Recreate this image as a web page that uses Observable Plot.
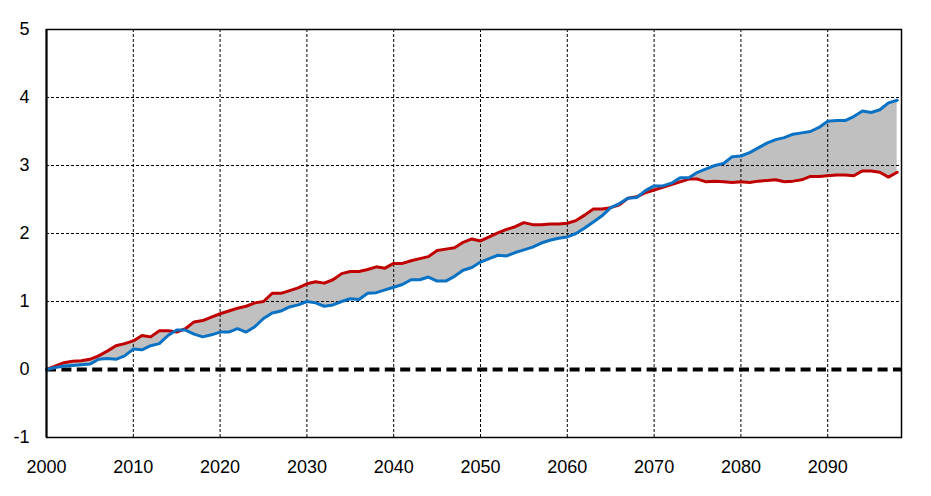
<!DOCTYPE html>
<html><head><meta charset="utf-8">
<script src="https://cdn.jsdelivr.net/npm/d3@7"></script>
<script src="https://cdn.jsdelivr.net/npm/@observablehq/plot@0.6"></script>
<style>body{margin:0;background:#fff}</style>
</head><body><div id="chart"></div>
<script>
const years = d3.range(2000, 2099);
const blue = [0,0.03,0.05,0.06,0.07,0.08,0.15,0.16,0.15,0.2,
0.3,0.29,0.35,0.38,0.5,0.58,0.58,0.52,0.48,0.51,
0.55,0.55,0.6,0.55,0.63,0.75,0.83,0.86,0.92,0.95,
1.0,0.98,0.93,0.95,1.0,1.04,1.03,1.12,1.13,1.17,
1.21,1.25,1.32,1.32,1.36,1.3,1.3,1.37,1.46,1.5,
1.58,1.63,1.68,1.67,1.72,1.76,1.8,1.86,1.9,1.93,
1.95,2.0,2.08,2.17,2.26,2.38,2.44,2.52,2.53,2.63,
2.7,2.7,2.74,2.82,2.82,2.9,2.95,3.0,3.03,3.13,
3.14,3.19,3.26,3.33,3.38,3.41,3.46,3.48,3.5,3.56,
3.65,3.66,3.66,3.72,3.8,3.78,3.82,3.92,3.96];
const red = [0,0.05,0.1,0.12,0.13,0.15,0.2,0.27,0.35,0.38,
0.42,0.5,0.48,0.57,0.57,0.55,0.6,0.7,0.72,0.77,
0.82,0.86,0.9,0.93,0.98,1.0,1.12,1.12,1.16,1.2,
1.26,1.29,1.27,1.32,1.41,1.44,1.44,1.47,1.51,1.49,
1.56,1.56,1.6,1.63,1.66,1.75,1.77,1.79,1.87,1.92,
1.89,1.95,2.01,2.06,2.1,2.16,2.13,2.13,2.14,2.14,
2.15,2.19,2.27,2.36,2.36,2.38,2.42,2.52,2.54,2.6,
2.64,2.68,2.72,2.76,2.8,2.8,2.76,2.77,2.76,2.75,
2.76,2.75,2.77,2.78,2.79,2.76,2.77,2.79,2.84,2.84,
2.85,2.86,2.86,2.85,2.92,2.92,2.9,2.83,2.9];
const xTicks = [2000,2010,2020,2030,2040,2050,2060,2070,2080,2090];
const yTicks = [-1,0,1,2,3,4,5];
const gridYVals = [1,2,3,4];

const data = years.map((yr, i) => ({year: yr, blue: blue[i], red: red[i]}));

const chart = Plot.plot({
  width: 931, height: 496,
  marginLeft: 46, marginTop: 29, marginRight: 30, marginBottom: 59,
  x: {domain: [2000, 2098.5], label: null},
  y: {domain: [-1, 5], label: null},
  style: {fontFamily: "'Liberation Sans', Arial, sans-serif", fontSize: "18px", color: "#000", background: "#fff"},
  marks: [
    Plot.areaY(data, {x: "year", y1: "red", y2: "blue", fill: "#c0c0c0"}),
    Plot.gridX(xTicks.slice(1), {stroke: "#000", strokeOpacity: 1, strokeDasharray: "3,2"}),
    Plot.gridY(gridYVals, {stroke: "#000", strokeOpacity: 1, strokeDasharray: "3,2"}),
    Plot.ruleY([0], {stroke: "#000", strokeWidth: 4, strokeDasharray: "10,5.4"}),
    Plot.lineY(data, {x: "year", y: "red", stroke: "#c00000", strokeWidth: 3}),
    Plot.lineY(data, {x: "year", y: "blue", stroke: "#0a72c4", strokeWidth: 3}),
    Plot.frame({stroke: "#000", strokeWidth: 1.5}),
    Plot.ruleX([2000], {stroke: "#000", strokeWidth: 2}),
    Plot.axisX(xTicks, {tickSize: 0, tickPadding: 23, tickFormat: d => String(d), label: null}),
    Plot.axisY(yTicks, {tickSize: 0, tickPadding: 17, tickFormat: d => String(d), label: null})
  ]
});
document.getElementById("chart").append(chart);
</script>
</body></html>
